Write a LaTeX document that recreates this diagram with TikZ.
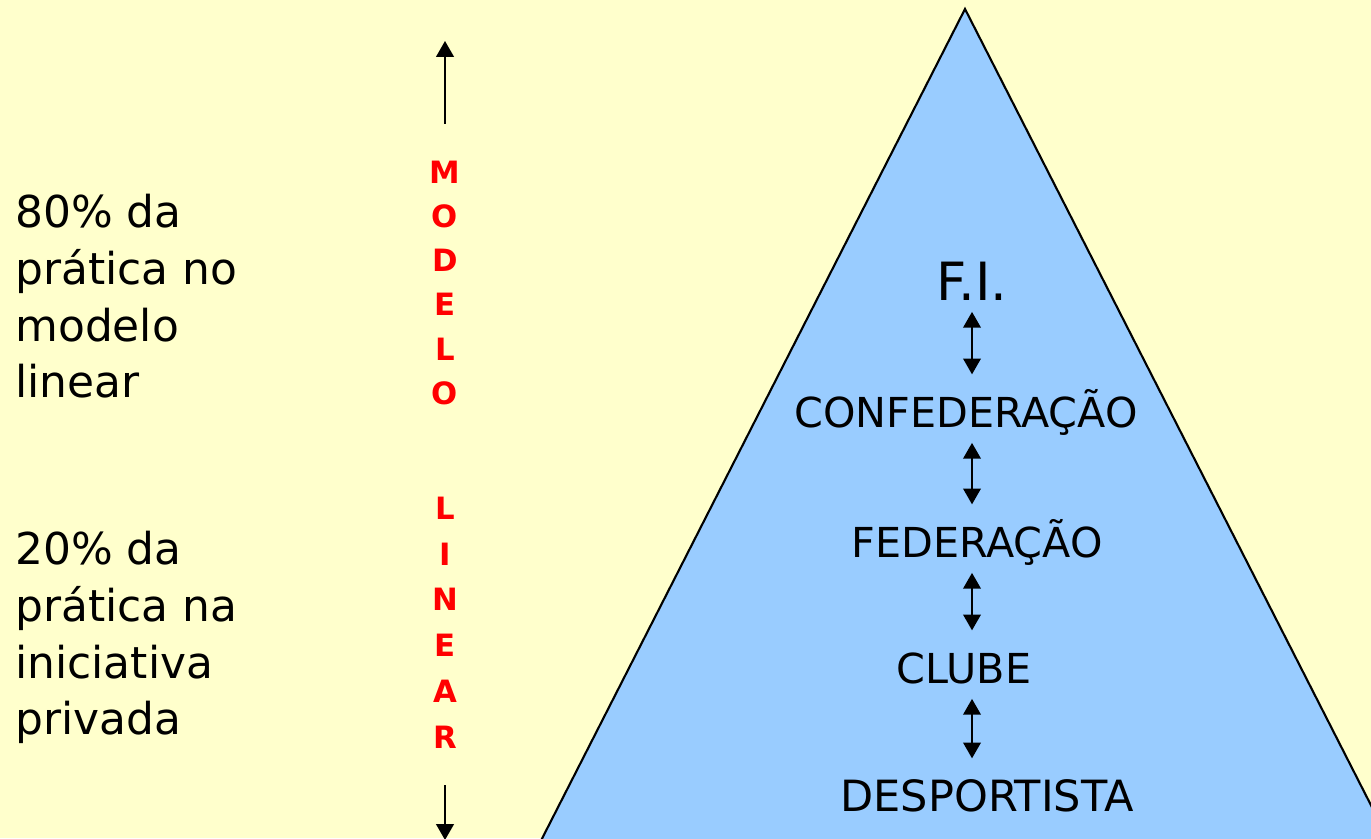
\documentclass[tikz,border=0pt]{standalone}
\usepackage{fontspec}
\setmainfont{DejaVu Sans}
\usetikzlibrary{arrows.meta}
\definecolor{paper}{HTML}{FFFFCC}
\definecolor{pyramid}{HTML}{99CCFF}

\begin{document}
\begin{tikzpicture}[x=0.02cm, y=-0.02cm,
    side/.style={align=left, anchor=north west, inner sep=0pt, font=\fontsize{25}{32.3}\selectfont},
    level/.style={inner sep=0pt, text height=17pt, text depth=0pt, font=\fontsize{23.5}{26}\selectfont},
    letter/.style={inner sep=0pt, text=red, font=\fontsize{17.5}{20}\bfseries\selectfont},
    link/.style={{Triangle[width=10pt,length=9pt]}-{Triangle[width=10pt,length=9pt]}, line width=1.1pt},
    pointer/.style={-{Triangle[width=10pt,length=9pt]}, line width=1.1pt}]

      \fill[paper] (0,0) rectangle (1371,838);
      \useasboundingbox (0,0) rectangle (1371,838);

      % pyramid
      \begin{scope}
        \clip (0,0) rectangle (1371,838);
        \filldraw[fill=pyramid, draw=black, line width=1.2pt, line join=miter]
          (965,9) -- (1404,870) -- (526,870) -- cycle;
      \end{scope}

      % levels of the pyramid
      \node[level, text height=21.5pt, font=\fontsize{30}{34}\selectfont] (fi) at (972,282) {F.I.};
      \node[level] (conf) at (966,413) {CONFEDERAÇÃO};
      \node[level] (fed) at (977,543) {FEDERAÇÃO};
      \node[level] (clube) at (964,669) {CLUBE};
      \node[level, font=\fontsize{24.5}{28}\selectfont] (desp) at (987,797) {DESPORTISTA};

      % links between levels
      \coordinate (axis) at (972,0);
      \foreach \a/\b in {fi/conf, conf/fed, fed/clube, clube/desp} {
        \draw[link, shorten <=17pt, shorten >=22pt] (axis |- \a) -- (axis |- \b);
      }

      % vertical title
      \foreach \c [count=\i] in {M,O,D,E,L,O} {
        \node[letter] (m\i) at (445,{172+44.2*(\i-1)}) {\c};
      }
      \foreach \c [count=\i] in {L,I,N,E,A,R} {
        \node[letter] (l\i) at (445,{508+45.8*(\i-1)}) {\c};
      }

      % arrows above and below the title
      \coordinate (top) at (445,41);
      \coordinate (bottom) at (445,840);
      \draw[pointer, shorten <=21pt] (m1) -- (top);
      \draw[pointer, shorten <=21pt] (l6) -- (bottom);

      % side notes
      \node[side] (high) at (15,194) {80\% da\\prática no\\modelo\\linear};
      \node[side] (low) at (15,531) {20\% da\\prática na\\iniciativa\\privada};

\end{tikzpicture}
\end{document}
